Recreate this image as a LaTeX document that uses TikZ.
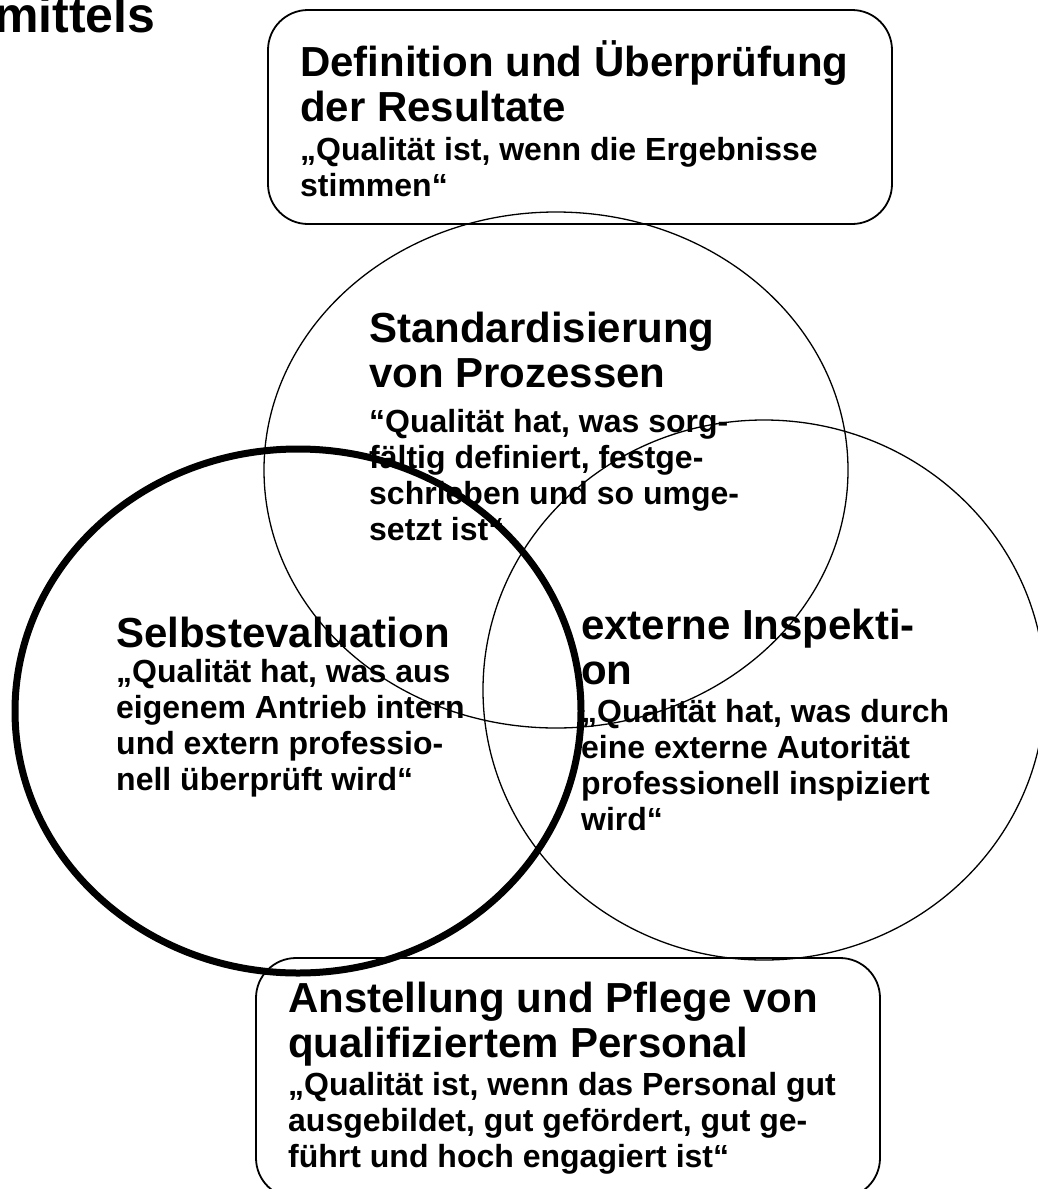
\documentclass[tikz,border=0pt]{standalone}
\usepackage{fontspec}
\setmainfont{Liberation Sans}
% invisible rule that fixes the top of a block one em above its first baseline
\newcommand\lnstrut{\rule{0pt}{1em}}
\begin{document}
\begin{tikzpicture}[x=1pt,y=-1pt,
  headtext/.style={anchor=north west, inner sep=0pt, align=left,
    font=\bfseries\fontsize{42}{45}\selectfont},
  quotetext/.style={anchor=north west, inner sep=0pt, align=left,
    font=\bfseries\fontsize{32}{36}\selectfont},
  titletext/.style={anchor=base west, inner sep=0pt,
    font=\bfseries\fontsize{50}{56}\selectfont},
  frame/.style={draw, line width=1.8pt, rounded corners=40pt},
  ring/.style={draw, line width=1.3pt},
  boldring/.style={draw, line width=7pt}]
\useasboundingbox (0,0) rectangle (1038,1189);

% cut-off title line
\node[titletext] (title) at (-6,32) {mittels};

% results box
\node[headtext] (reshead) at (300,34) {\lnstrut Definition und Überprüfung\\der Resultate};
\node[quotetext] (resquote) at (300,128) {\lnstrut „Qualität ist, wenn die Ergebnisse\\stimmen“};

% process standards
\node[headtext] (prochead) at (369,300) {\lnstrut Standardisierung\\von Prozessen};
\node[quotetext] (procquote) at (369,400) {\lnstrut “Qualität hat, was sorg-\\fältig definiert, festge-\\schrieben und so umge-\\setzt ist“};

% self evaluation
\node[headtext] (selfhead) at (116,605) {\lnstrut Selbstevaluation};
\node[quotetext] (selfquote) at (116,650) {\lnstrut „Qualität hat, was aus\\eigenem Antrieb intern\\und extern professio-\\nell überprüft wird“};

% external inspection
\node[headtext] (exthead) at (581,597) {\lnstrut externe Inspekti-\\on};
\node[quotetext] (extquote) at (581,690) {\lnstrut „Qualität hat, was durch\\eine externe Autorität\\professionell inspiziert\\wird“};

% staff box
\node[headtext] (staffhead) at (288,970) {\lnstrut Anstellung und Pflege von\\qualifiziertem Personal};
\node[quotetext] (staffquote) at (288,1063) {\lnstrut „Qualität ist, wenn das Personal gut\\ausgebildet, gut gefördert, gut ge-\\führt und hoch engagiert ist“};

% frames and circles
\draw[frame] (268,10) rectangle (892,224);
\draw[frame] (256,958) rectangle (880,1198);
\draw[ring] (556,470) ellipse [x radius=292, y radius=258];
\draw[ring] (764,690) ellipse [x radius=281, y radius=270];
\draw[boldring] (298,711) ellipse [x radius=283, y radius=262];
\end{tikzpicture}
\end{document}
